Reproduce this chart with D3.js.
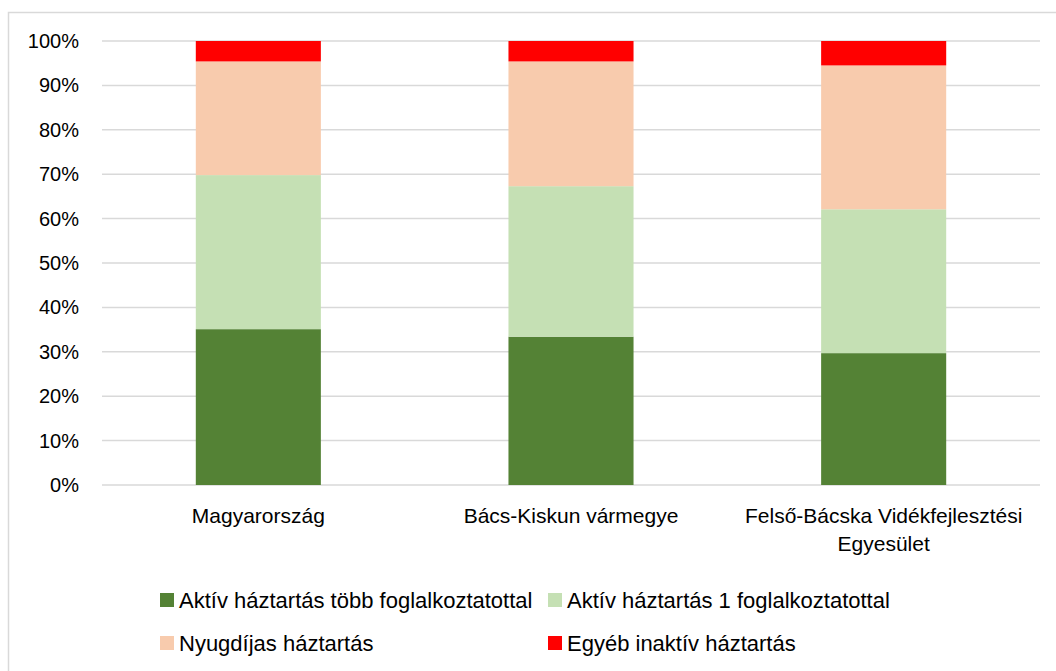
<!DOCTYPE html>
<html>
<head>
<meta charset="utf-8">
<script src="https://cdn.jsdelivr.net/npm/d3@7"></script>
<style>
  body { margin: 0; background: #fff; }
  text { font-family: "Liberation Sans", Arial, sans-serif; fill: #000; }
</style>
</head>
<body>
<svg id="chart" width="1056" height="671"></svg>
<script>
// data (percent)
var categories = ["Magyarország", "Bács-Kiskun vármegye", "Felső-Bácska Vidékfejlesztési Egyesület"];
var categoryLines = [["Magyarország"], ["Bács-Kiskun vármegye"], ["Felső-Bácska Vidékfejlesztési", "Egyesület"]];
var seriesNames = ["Aktív háztartás több foglalkoztatottal", "Aktív háztartás 1 foglalkoztatottal", "Nyugdíjas háztartás", "Egyéb inaktív háztartás"];
var seriesColors = ["#548235", "#c5e0b4", "#f8cbad", "#ff0000"];
var aktivTobb = [35.1, 33.4, 29.7];
var aktivEgy = [34.7, 33.9, 32.4];
var nyugdijas = [25.6, 28.1, 32.4];
var egyeb = [4.6, 4.6, 5.5];
var yTicks = [0, 10, 20, 30, 40, 50, 60, 70, 80, 90, 100];

var svg = d3.select("#chart");

// outer frame of the chart area
svg.append("rect")
    .attr("x", 8.5).attr("y", 12.5)
    .attr("width", 1100).attr("height", 700)
    .attr("fill", "none")
    .attr("stroke", "#d9d9d9")
    .attr("stroke-width", 1.5);

var plotLeft = 102, plotRight = 1040, plotTop = 41, plotBottom = 485;

var x = d3.scaleBand().domain(categories).range([plotLeft, plotRight]).paddingInner(0.6).paddingOuter(0.3);
var y = d3.scaleLinear().domain([0, 100]).range([plotBottom, plotTop]);

// stack the series
var rows = categories.map(function(c, i) {
  return { cat: c, s0: aktivTobb[i], s1: aktivEgy[i], s2: nyugdijas[i], s3: egyeb[i] };
});
var stack = d3.stack().keys(["s0", "s1", "s2", "s3"]);
var stacked = stack(rows);

// gridlines
svg.append("g")
  .selectAll("line")
  .data(yTicks)
  .enter().append("line")
    .attr("x1", plotLeft).attr("x2", plotRight)
    .attr("y1", function(d) { return y(d); })
    .attr("y2", function(d) { return y(d); })
    .attr("stroke", "#d9d9d9")
    .attr("stroke-width", 1.5);

// y axis labels
var yAxis = d3.axisLeft(y).tickValues(yTicks).tickSize(0).tickPadding(0)
    .tickFormat(function(d) { return d + "%"; });
var yg = svg.append("g")
    .attr("transform", "translate(79,0)")
    .call(yAxis);
yg.select(".domain").remove();
yg.selectAll("text")
    .attr("font-size", 20)
    .attr("font-family", "Liberation Sans, Arial, sans-serif")
    .attr("fill", "#000");

// bars
svg.append("g")
  .selectAll("g")
  .data(stacked)
  .enter().append("g")
    .attr("fill", function(d, i) { return seriesColors[i]; })
  .selectAll("rect")
  .data(function(d) { return d; })
  .enter().append("rect")
    .attr("x", function(d) { return x(d.data.cat); })
    .attr("y", function(d) { return y(d[1]); })
    .attr("height", function(d) { return y(d[0]) - y(d[1]); })
    .attr("width", x.bandwidth());

// category labels
var catLabels = svg.append("g")
  .selectAll("text")
  .data(categories)
  .enter().append("text")
    .attr("x", function(d) { return x(d) + x.bandwidth() / 2; })
    .attr("y", 523)
    .attr("text-anchor", "middle")
    .attr("font-size", 21);
catLabels.selectAll("tspan")
  .data(function(d, i) { return categoryLines[i]; })
  .enter().append("tspan")
    .attr("x", function() { return this.parentNode.getAttribute("x"); })
    .attr("dy", function(d, i) { return i === 0 ? 0 : 28; })
    .text(function(d) { return d; });

// legend
var legendX = [160, 548];
var legendY = [600, 643];
var legend = svg.append("g")
  .selectAll("g")
  .data(seriesNames)
  .enter().append("g")
    .attr("transform", function(d, i) {
      return "translate(" + legendX[i % 2] + "," + legendY[Math.floor(i / 2)] + ")";
    });
legend.append("rect")
    .attr("x", 0).attr("y", -7)
    .attr("width", 14).attr("height", 14)
    .attr("fill", function(d, i) { return seriesColors[i]; });
legend.append("text")
    .attr("x", 19)
    .attr("y", 7.5)
    .attr("font-size", 22)
    .text(function(d) { return d; });
</script>
</body>
</html>
